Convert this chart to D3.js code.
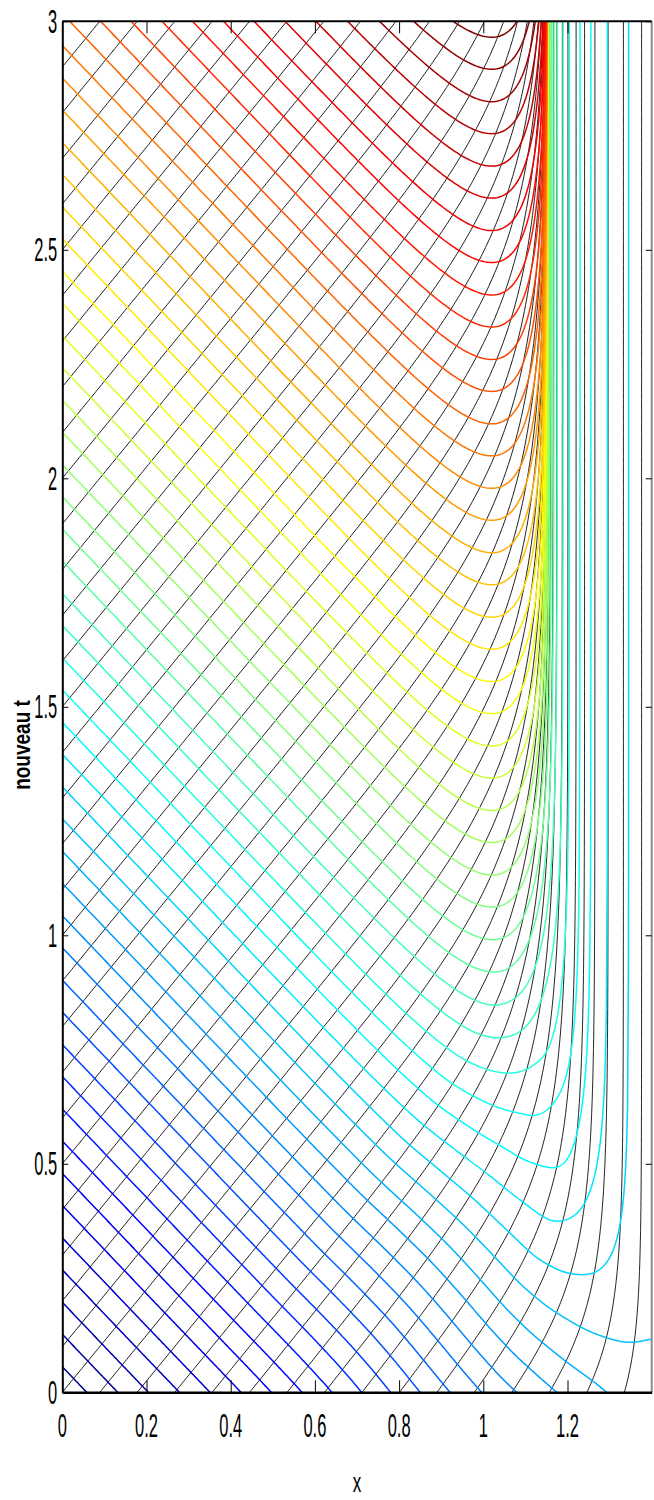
<!DOCTYPE html>
<html>
<head>
<meta charset="utf-8">
<script src="https://cdn.jsdelivr.net/npm/d3@7"></script>
<style>
  body { margin: 0; background: #fff; }
  svg { display: block; }
  text { font-family: "Liberation Sans", Arial, sans-serif; fill: #000; }
</style>
</head>
<body>
<div id="chart"></div>
<script>
// black characteristics leaving the left edge (start time) and the bottom (start x)
const blackLeftT0 = [0.1, 0.2, 0.3, 0.4, 0.5, 0.6, 0.7, 0.8, 0.9, 1.0, 1.1, 1.2, 1.3, 1.4, 1.5,
  1.6, 1.7, 1.8, 1.9, 2.0, 2.1, 2.2, 2.3, 2.4, 2.5, 2.6, 2.7, 2.8, 2.9];
const blackBottomX0 = [0, 0.089, 0.178, 0.267, 0.356, 0.445, 0.534, 0.623, 0.712, 0.801,
  0.890, 0.979, 1.068, 1.157, 1.246, 1.335];

// for a line starting on the bottom: its vertical asymptote, bend width and speed
const asymX0 = [0, 0.3, 0.5, 0.633, 0.72, 0.806, 0.914, 1.028, 1.148, 1.27, 1.4, 1.5];
const asymXa = [1.152, 1.155, 1.164, 1.176, 1.189, 1.202, 1.226, 1.253, 1.293, 1.344, 1.415, 1.5];
const asymBend = [0.22, 0.22, 0.21, 0.195, 0.18, 0.165, 0.15, 0.14, 0.13, 0.11, 0.09, 0.08];
const asymSpeed = [0.89, 0.89, 0.875, 0.86, 0.845, 0.83, 0.815, 0.8, 0.8, 0.8, 0.8, 0.8];

// contour value along the bottom edge t = 0
const bottomX = [0, 0.6, 0.996, 1.079, 1.174, 1.293, 1.4, 1.5];
const bottomLevel = [0, 0.58, 0.973, 1.043, 1.1135, 1.184, 1.235, 1.27];

// contour levels (value = intercept on the left edge)
const levels = [0.056, 0.127, 0.197, 0.268, 0.338, 0.409, 0.479, 0.550, 0.620, 0.691,
  0.761, 0.832, 0.902, 0.973, 1.043, 1.114, 1.184, 1.255, 1.325, 1.396,
  1.466, 1.537, 1.607, 1.678, 1.748, 1.819, 1.889, 1.960, 2.030, 2.101,
  2.171, 2.242, 2.312, 2.383, 2.453, 2.524, 2.594, 2.665, 2.735, 2.806,
  2.876, 2.947, 3.017, 3.088, 3.158, 3.229, 3.299, 3.370, 3.440, 3.511,
  3.581, 3.652, 3.722, 3.793, 3.863];

const jetStops = [0, 0.125, 0.375, 0.625, 0.875, 1];
const jetColors = ['#00008f', '#0000ff', '#00ffff', '#ffff00', '#ff0000', '#800000'];

const xTicks = [0, 0.2, 0.4, 0.6, 0.8, 1, 1.2];
const yTicks = [0, 0.5, 1, 1.5, 2, 2.5, 3];

// flow constants
const speed = 0.89;      // slope of black lines on the left
const slopeC = 1.034;    // slope of coloured lines on the left
const xStar = 1.152;     // where everything piles up
const bend = 0.22;
const kLeft = 1 / slopeC + 1 / speed;

const width = 654, height = 1500;
const x = d3.scaleLinear().domain([0, 1.4]).range([62.3, 651.7]);
const y = d3.scaleLinear().domain([0, 3]).range([1392.3, 21.3]);

// monotone cubic through a table, so the curves have no kinks
function smoothTable(xs, ys) {
  const n = xs.length, d = [], m = [];
  for (let i = 0; i < n - 1; i++) d.push((ys[i + 1] - ys[i]) / (xs[i + 1] - xs[i]));
  m[0] = d[0]; m[n - 1] = d[n - 2];
  for (let i = 1; i < n - 1; i++) m[i] = d[i - 1] * d[i] <= 0 ? 0 : (d[i - 1] + d[i]) / 2;
  for (let i = 0; i < n - 1; i++) {
    if (d[i] === 0) { m[i] = 0; m[i + 1] = 0; continue; }
    const a = m[i] / d[i], b = m[i + 1] / d[i], s = a * a + b * b;
    if (s > 9) { const k = 3 / Math.sqrt(s); m[i] = k * a * d[i]; m[i + 1] = k * b * d[i]; }
  }
  return v => {
    const i = Math.min(Math.max(d3.bisectRight(xs, v) - 1, 0), n - 2);
    const h = xs[i + 1] - xs[i], u = (v - xs[i]) / h;
    const u2 = u * u, u3 = u2 * u;
    return (2 * u3 - 3 * u2 + 1) * ys[i] + (u3 - 2 * u2 + u) * h * m[i]
      + (-2 * u3 + 3 * u2) * ys[i + 1] + (u3 - u2) * h * m[i + 1];
  };
}

const asymAt = smoothTable(asymX0, asymXa);
const bendAt = smoothTable(asymX0, asymBend);
const speedAt = smoothTable(asymX0, asymSpeed);
const bottomAt = smoothTable(bottomX, bottomLevel);
function bottomInvert(L) {
  let a = 0, b = 1.5;
  for (let i = 0; i < 50; i++) { const m = (a + b) / 2; if (bottomAt(m) < L) a = m; else b = m; }
  return (a + b) / 2;
}

const lo = levels[0], hi = levels[levels.length - 1];
const color = d3.scaleLinear()
  .domain(jetStops.map(p => lo + p * (hi - lo)))
  .range(jetColors);

function travelTime(xs, xv, xa, dl, sp) {
  return dl / sp * Math.log(Math.sinh((xa - xs) / dl) / Math.sinh((xa - xv) / dl));
}
function charX(xs, xa, dl, sp, age) {
  return xa - dl * Math.asinh(Math.sinh((xa - xs) / dl) * Math.exp(-sp * age / dl));
}

function blackFromLeft(t0) {
  const pts = [];
  for (let t = t0; t <= 3.005; t += 0.005) pts.push([charX(0, xStar, bend, speed, t - t0), t]);
  return pts;
}
function blackFromBottom(x0) {
  const xa = asymAt(x0), dl = bendAt(x0), sp = speedAt(x0);
  const pts = [];
  for (let t = 0; t <= 3.005; t += 0.004) pts.push([charX(x0, xa, dl, sp, t), t]);
  return pts;
}

function bottomPoint(L, x0) {
  const xa = asymAt(x0);
  const xv = x0 + (L - bottomAt(x0)) / kLeft;
  if (xv >= xa) return null;
  return [xv, travelTime(x0, xv, xa, bendAt(x0), speedAt(x0))];
}

function levelCurve(L) {
  const tMax = 3.5;
  const pts = [];
  const xs = [];
  for (let xv = 0; xv < xStar - 0.1; xv += 0.004) xs.push(xv);
  for (let j = 0; j < 150; j++) xs.push(xStar - 0.1 * Math.pow(0.92, j));
  const xL = L / kLeft;
  for (const xv of xs) {
    if (xv > xL) break;
    const t = L - kLeft * xv + travelTime(0, xv, xStar, bend, speed);
    const prev = pts[pts.length - 1];
    pts.push([xv, t]);
    if (t > tMax && prev && t > prev[1]) return pts;
  }
  if (xL >= xStar) {
    const last = pts[pts.length - 1];
    pts.push([last[0], tMax]);
    return pts;
  }
  pts.push([xL, travelTime(0, xL, xStar, bend, speed)]);
  let prevX0 = 0;
  for (let x0 = 0.003; x0 <= 1.5; x0 += 0.003) {
    if (bottomAt(x0) >= L) {
      pts.push([bottomInvert(L), 0]);
      return pts;
    }
    const p = bottomPoint(L, x0);
    if (!p) {
      let a = prevX0, b = x0;
      for (let i = 0; i < 50; i++) {
        const m = (a + b) / 2;
        if (bottomPoint(L, m)) a = m; else b = m;
      }
      for (let j = 1; j < 160; j++) {
        const q = bottomPoint(L, a - (a - prevX0) * Math.pow(0.88, j));
        if (q) { pts.push(q); if (q[1] > tMax) break; }
      }
      const last = pts[pts.length - 1];
      if (last[1] < tMax) pts.push([last[0], tMax]);
      return pts;
    }
    pts.push(p);
    if (p[1] > tMax) return pts;
    prevX0 = x0;
  }
  return pts;
}

const svg = d3.select('#chart').append('svg')
  .attr('width', width)
  .attr('height', height);

svg.append('defs').append('clipPath').attr('id', 'plot-clip')
  .append('rect')
  .attr('x', x(0)).attr('y', y(3))
  .attr('width', x(1.4) - x(0)).attr('height', y(0) - y(3));

const plot = svg.append('g').attr('clip-path', 'url(#plot-clip)');
const line = d3.line().x(d => x(d[0])).y(d => y(d[1]));

// black characteristics
plot.append('g')
  .selectAll('path')
  .data(blackLeftT0)
  .join('path')
  .attr('d', d => line(blackFromLeft(d)))
  .attr('fill', 'none')
  .attr('stroke', '#000')
  .attr('stroke-width', 0.9);

plot.append('g')
  .selectAll('path')
  .data(blackBottomX0)
  .join('path')
  .attr('d', d => line(blackFromBottom(d)))
  .attr('fill', 'none')
  .attr('stroke', '#000')
  .attr('stroke-width', 0.9);

// coloured contour lines
plot.append('g')
  .selectAll('path')
  .data(levels)
  .join('path')
  .attr('d', d => line(levelCurve(d)))
  .attr('fill', 'none')
  .attr('stroke', d => color(d))
  .attr('stroke-width', 1.5);

// frame
const frame = svg.append('g');
frame.append('line').attr('x1', x(1.4)).attr('x2', x(1.4)).attr('y1', y(0)).attr('y2', y(3))
  .attr('stroke', '#8c8c8c').attr('stroke-width', 2);
frame.append('line').attr('x1', x(0)).attr('x2', x(1.4)).attr('y1', y(3)).attr('y2', y(3))
  .attr('stroke', '#000').attr('stroke-width', 2);

// axes (inward ticks)
svg.append('g')
  .attr('transform', `translate(0,${y(0)})`)
  .call(d3.axisBottom(x).tickValues(xTicks).tickSizeInner(-12).tickSizeOuter(0).tickFormat(''))
  .call(g => g.select('.domain').attr('stroke-width', 2.5));
svg.append('g')
  .attr('transform', `translate(0,${y(3)})`)
  .call(d3.axisTop(x).tickValues(xTicks.slice(1)).tickSizeInner(-12).tickSizeOuter(0).tickFormat(''))
  .call(g => g.select('.domain').remove());
svg.append('g')
  .attr('transform', `translate(${x(0)},0)`)
  .call(d3.axisLeft(y).tickValues(yTicks).tickSizeInner(-6).tickSizeOuter(0).tickFormat(''))
  .call(g => g.select('.domain').attr('stroke-width', 2));
svg.append('g')
  .attr('transform', `translate(${x(1.4)},0)`)
  .call(d3.axisRight(y).tickValues(yTicks).tickSizeInner(-6).tickSizeOuter(0).tickFormat(''))
  .call(g => g.select('.domain').remove());

// tick labels (tall, narrow lettering as in the figure)
svg.append('g')
  .selectAll('text')
  .data(xTicks)
  .join('text')
  .attr('transform', d => `translate(${x(d)},${y(0) + 33}) scale(1,2.05)`)
  .attr('text-anchor', 'middle')
  .attr('dominant-baseline', 'central')
  .attr('font-size', 16.5)
  .text(d => d);

svg.append('g')
  .selectAll('text')
  .data(yTicks)
  .join('text')
  .attr('transform', d => `translate(${x(0) - 5},${y(d)}) scale(1,2.05)`)
  .attr('text-anchor', 'end')
  .attr('dominant-baseline', 'central')
  .attr('font-size', 16.5)
  .text(d => d);

svg.append('text')
  .attr('transform', `translate(${(x(0) + x(1.4)) / 2},${y(0) + 90}) scale(1,1.6)`)
  .attr('text-anchor', 'middle')
  .attr('dominant-baseline', 'central')
  .attr('font-size', 17)
  .text('x');

svg.append('text')
  .attr('transform', 'translate(22,745) rotate(-90) scale(1,1.3)')
  .attr('text-anchor', 'middle')
  .attr('dominant-baseline', 'central')
  .attr('font-size', 19)
  .attr('font-weight', 'bold')
  .text('nouveau t');
</script>
</body>
</html>
